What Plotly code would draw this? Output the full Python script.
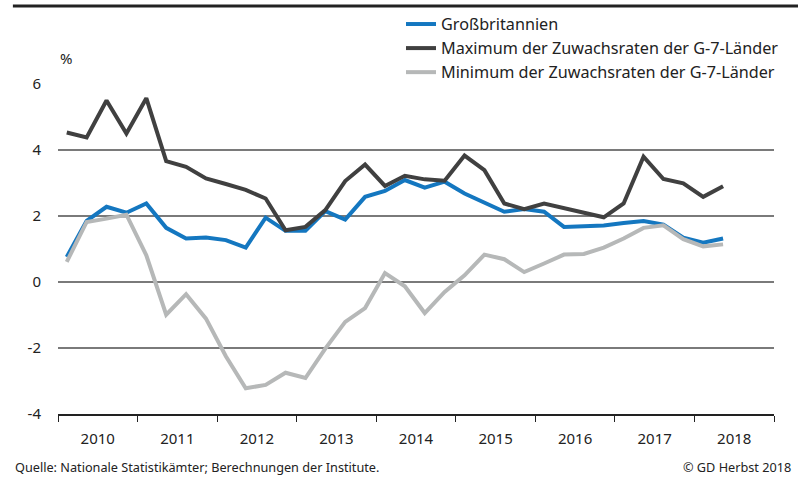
import plotly.graph_objects as go

quarters = [f"{y}Q{q}" for y in range(2010, 2019) for q in range(1, 5)][:34]

gb = [0.76, 1.85, 2.28, 2.10, 2.38, 1.64, 1.32, 1.35, 1.27, 1.04,
      1.95, 1.55, 1.55, 2.15, 1.89, 2.58, 2.76, 3.09, 2.86, 3.04,
      2.68, 2.41, 2.13, 2.21, 2.13, 1.67, 1.70, 1.71, 1.79, 1.85,
      1.74, 1.34, 1.19, 1.32]
g7_max = [4.53, 4.38, 5.50, 4.50, 5.57, 3.66, 3.49, 3.14, 2.97, 2.79,
          2.53, 1.57, 1.67, 2.18, 3.06, 3.56, 2.91, 3.22, 3.11, 3.07,
          3.83, 3.39, 2.38, 2.21, 2.38, 2.23, 2.11, 1.96, 2.38, 3.80,
          3.12, 2.99, 2.58, 2.90]
g7_min = [0.61, 1.82, 1.92, 2.04, 0.81, -0.99, -0.37, -1.11, -2.25, -3.22,
          -3.12, -2.75, -2.91, -2.02, -1.21, -0.79, 0.27, -0.13, -0.94, -0.30,
          0.20, 0.83, 0.69, 0.30, 0.56, 0.83, 0.85, 1.04, 1.32, 1.64,
          1.72, 1.30, 1.08, 1.14]

names = ["Großbritannien",
         "Maximum der Zuwachsraten der G-7-Länder",
         "Minimum der Zuwachsraten der G-7-Länder"]
colors = ["#1477c0", "#404040", "#b6b8b8"]
years = list(range(2010, 2019))
y_ticks = [-4, -2, 0, 2, 4, 6]
y_labels = ["-4", "-2", "0", "2", "4", "6"]

def qpos(s):
    y, q = s.split("Q")
    return int(y) + (int(q) - 1) / 4 + 0.11

x = [qpos(s) for s in quarters]

fig = go.Figure()
for name, vals, col in zip(names, [gb, g7_max, g7_min], colors):
    fig.add_trace(go.Scatter(x=x, y=vals, name=name, mode="lines",
                             line=dict(color=col, width=4)))

font = "Noto Sans, sans-serif"
fig.update_layout(
    width=798, height=478,
    margin=dict(l=58, r=24, t=84, b=64, autoexpand=False),
    paper_bgcolor="white", plot_bgcolor="white",
    font=dict(family=font, size=15, color="#222222"),
    showlegend=True,
    legend=dict(xref="container", yref="container",
                x=401 / 798, y=1 - 7 / 478, xanchor="left", yanchor="top",
                bgcolor="rgba(0,0,0,0)", itemwidth=30, tracegroupgap=0,
                font=dict(size=16.2, color="#222222")),
    xaxis=dict(range=[2010, 2019], tickvals=[y + 0.5 for y in years],
               ticktext=[str(y) for y in years], ticks="", showgrid=False,
               zeroline=False, showline=True, linecolor="#222222", linewidth=1.5,
               automargin=False, ticklabelstandoff=10,
               tickfont=dict(size=15, color="#222222"),
               minor=dict(tick0=2010, dtick=1, ticks="outside", ticklen=6,
                          tickcolor="#222222", tickwidth=1.2, showgrid=False)),
    yaxis=dict(range=[-4, 6], tickvals=y_ticks, ticktext=y_labels, showgrid=True,
               gridcolor="#7a7a7a", gridwidth=1.5, zeroline=False,
               showline=False, ticks="", ticklabelstandoff=16, automargin=False,
               tickfont=dict(size=15, color="#222222")),
)

fig.add_shape(type="line", xref="paper", yref="paper", x0=-0.063, x1=1.04,
              y0=1.236, y1=1.236, line=dict(color="#222222", width=3))
fig.add_annotation(text="%", xref="paper", yref="paper", x=0.0, y=1.078,
                   xanchor="left", yanchor="middle", showarrow=False,
                   font=dict(size=15, color="#222222"))
fig.add_annotation(text="Quelle: Nationale Statistikämter; Berechnungen der Institute.",
                   xref="paper", yref="paper", x=-0.063, y=-0.16,
                   xanchor="left", yanchor="middle", showarrow=False,
                   font=dict(size=12.7, color="#222222"))
fig.add_annotation(text="© GD Herbst 2018", xref="paper", yref="paper",
                   x=1.027, y=-0.16, xanchor="right", yanchor="middle",
                   showarrow=False, font=dict(size=12.7, color="#222222"))

fig.write_html("out.html", config={"displayModeBar": False},
               post_script="document.body.style.margin='0';document.body.style.overflow='hidden';")
